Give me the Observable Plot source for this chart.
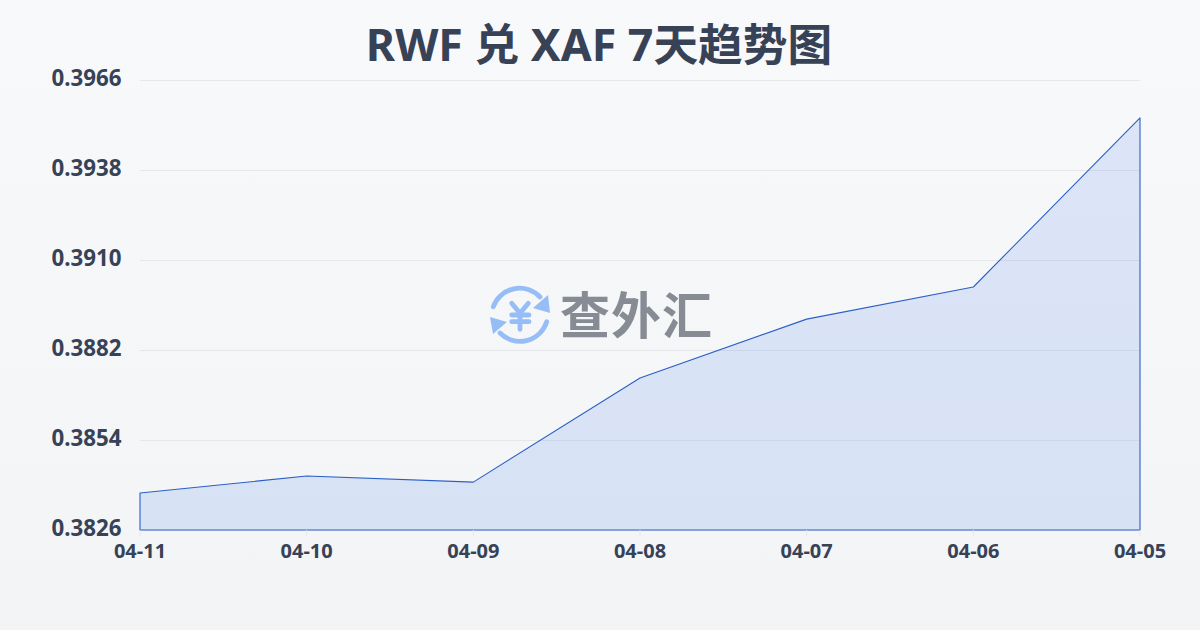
<!DOCTYPE html>
<html><head><meta charset="utf-8">
<style>
html,body{margin:0;padding:0;width:1200px;height:630px;overflow:hidden;background:linear-gradient(180deg,#f8f9fb 0%,#f2f4f6 100%);}
#title{position:absolute;left:0;top:0;width:1198px;text-align:center;font:700 44.7px/87px "Noto Sans","Noto Sans CJK SC",sans-serif;color:#374256;white-space:nowrap}
#chart{position:absolute;left:0;top:50px}
#chart svg{background:transparent;display:block}
#icon{position:absolute;left:488px;top:284px}
#wmtext{position:absolute;left:560px;top:281px;font:700 50px/62px "Noto Sans CJK SC",sans-serif;color:#868b94;letter-spacing:1px;white-space:nowrap}
</style>
<script src="https://cdn.jsdelivr.net/npm/d3@7"></script>
<script src="https://cdn.jsdelivr.net/npm/@observablehq/plot@0.6"></script>
</head><body>
<div id="chart"></div>
<div id="title">RWF 兑 XAF 7天趋势图</div>
<svg id="icon" width="64" height="62" viewBox="0 0 64 62" fill="none" stroke="#97bdf7" stroke-width="4.8" stroke-linecap="round">
<path d="M5.3 22.7A28 28 0 0 1 52 13"/><path d="M58.7 37.7A28 28 0 0 1 12 49"/>
<path d="M60 11L62 29L45 24Z" fill="#97bdf7" stroke="none"/><path d="M2 33L19 38L5 50Z" fill="#97bdf7" stroke="none"/>
<path d="M23.7 19.3L32 29.3L40.3 19.3M23.7 31H41M23.7 37.7H41M32 29.3V45.3"/>
</svg>
<div id="wmtext">查外汇</div>
<script>
const dates = ["04-11","04-10","04-09","04-08","04-07","04-06","04-05"];
const rates = [0.38375,0.38428,0.38409,0.38733,0.38916,0.39016,0.39542];
const yTicks = [0.3826,0.3854,0.3882,0.3910,0.3938,0.3966];
const baseline = 0.3826;
const table = dates.map((d,i)=>({date:d,rate:rates[i]}));
const font = '"Noto Sans","Noto Sans CJK SC",sans-serif';
const plot = Plot.plot({
  width:1200,height:530,marginLeft:140,marginRight:60,marginTop:30,marginBottom:50,
  style:{background:"transparent",fontFamily:font},
  x:{type:"point",domain:dates,padding:0,round:false,label:null},
  y:{domain:[0.3826,0.3966],label:null},
  marks:[
    Plot.gridY(yTicks,{stroke:"#e5e7eb",strokeOpacity:1,strokeWidth:1}),
    Plot.area(table,{x1:"date",y1:()=>baseline,y2:"rate",fill:"#2563eb",fillOpacity:0.13,stroke:"#2b5fc7",strokeWidth:1.1}),
    Plot.axisY({ticks:yTicks,tickSize:0,tickPadding:19,tickFormat:d=>d.toFixed(4),fontSize:22.3,fontWeight:700,fill:"#374256",dy:-2,label:null}),
    Plot.axisX({tickSize:6,stroke:"#e5e7eb",tickPadding:7,fontSize:20,fontWeight:700,fill:"#374256",dx:-0.5,label:null})
  ]
});
document.getElementById("chart").appendChild(plot);
</script>
</body></html>
